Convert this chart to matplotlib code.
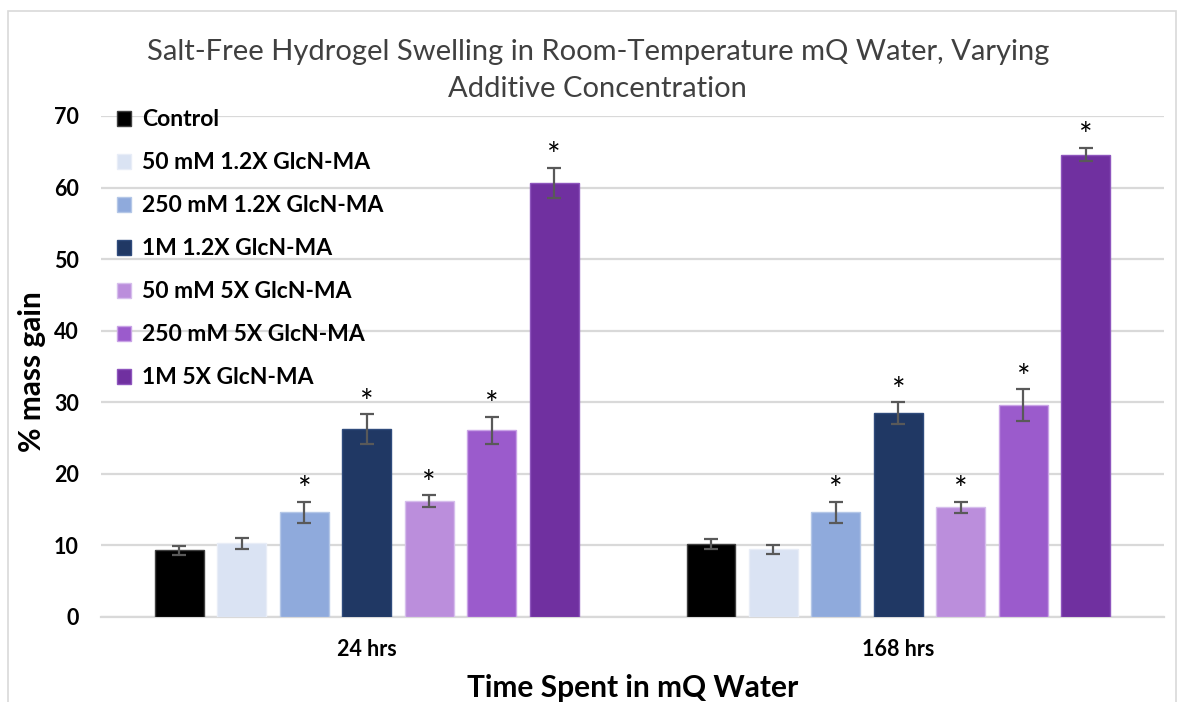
import numpy as np
import matplotlib.pyplot as plt
from matplotlib.patches import Rectangle

plt.rcParams['font.family'] = ['Lato', 'DejaVu Sans']

groups = ['24 hrs', '168 hrs']
series = ['Control', '50 mM 1.2X GlcN-MA', '250 mM 1.2X GlcN-MA', '1M 1.2X GlcN-MA',
          '50 mM 5X GlcN-MA', '250 mM 5X GlcN-MA', '1M 5X GlcN-MA']
colors = ['#000000', '#DAE3F3', '#8FAADC', '#203864', '#BB8EDC', '#9B5BCC', '#7030A0']
edges = ['#404040', '#E8EDF7', '#B4C7E7', '#2F4B7C', '#D6BEEC', '#C9A3E6', '#8E55BD']

# rows = series, columns = groups
values = [[9.3, 10.2], [10.3, 9.45], [14.6, 14.6], [26.2, 28.5],
          [16.2, 15.3], [26.1, 29.6], [60.7, 64.6]]
errors = [[0.6, 0.7], [0.8, 0.6], [1.5, 1.5], [2.1, 1.5],
          [0.8, 0.8], [1.9, 2.2], [2.1, 0.9]]
signif = [[False, False], [False, False], [True, True], [True, True],
          [True, True], [True, True], [True, True]]

fig = plt.figure(figsize=(11.84, 7.02), dpi=100)
ax = fig.add_axes([0.0853, 0.1211, 0.898, 0.7137])

x = np.arange(len(groups))
step = 0.1175
width = 0.092
for i, name in enumerate(series):
    pos = x + (i - 3) * step
    ax.bar(pos, values[i], width, color=colors[i], edgecolor=edges[i], linewidth=1,
           label=name, zorder=3)
    ax.errorbar(pos, values[i], yerr=errors[i], fmt='none', ecolor='#595959',
                elinewidth=1.6, capsize=5, capthick=1.6, zorder=4)
    for j in range(len(groups)):
        if signif[i][j]:
            ax.text(pos[j], values[i][j] + errors[i][j] - 0.6, '*', ha='center', va='bottom',
                    fontsize=23, color='black', zorder=5)

ax.set_xlim(-0.5, 1.5)
ax.set_ylim(0, 70)
ax.set_yticks(range(0, 71, 10))
ax.set_xticks(x)
ax.set_xticklabels(groups)
ax.yaxis.grid(True, color='#D9D9D9', linewidth=1.6, zorder=0)
ax.set_axisbelow(True)
for s in ['top', 'right', 'left']:
    ax.spines[s].set_visible(False)
ax.spines['bottom'].set_color('#D9D9D9')
ax.spines['bottom'].set_linewidth(1.6)
ax.tick_params(axis='both', length=0, labelsize=15.5)
ax.tick_params(axis='y', pad=16)
ax.tick_params(axis='x', pad=16)
for lbl in ax.get_xticklabels() + ax.get_yticklabels():
    lbl.set_fontweight('bold')

ax.set_ylabel('% mass gain', fontsize=21.5, fontweight='bold')
ax.yaxis.set_label_coords(-0.052, 0.49)
ax.set_xlabel('Time Spent in mQ Water', fontsize=21.5, fontweight='bold')
ax.xaxis.set_label_coords(0.5, -0.114)

fig.text(0.505, 0.945, 'Salt-Free Hydrogel Swelling in Room-Temperature mQ Water, Varying\nAdditive Concentration',
         ha='center', va='top', fontsize=21, color='#404040', linespacing=1.55)

leg = ax.legend(loc='upper left', bbox_to_anchor=(0.0, 1.045), frameon=False,
                fontsize=16.5, handlelength=0.6, handleheight=0.6, handletextpad=0.5,
                labelspacing=0.96, borderaxespad=0.3)
for t in leg.get_texts():
    t.set_fontweight('bold')

fig.patches.append(Rectangle((0.007, -0.1), 0.986, 1.084, transform=fig.transFigure,
                             fill=False, edgecolor='#D9D9D9', linewidth=1.2))

fig.savefig('out.png', dpi=100)
